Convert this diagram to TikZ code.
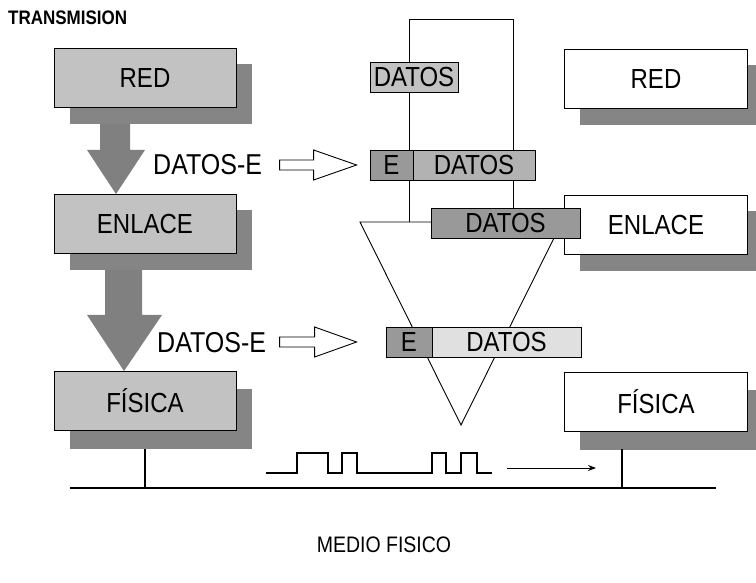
\documentclass[tikz,border=0pt]{standalone}
\usepackage{fontspec}
\usepackage{graphicx}
\setmainfont{Liberation Sans}
\usetikzlibrary{calc,arrows.meta}
\pgfdeclarelayer{bg}
\pgfsetlayers{bg,main}
\definecolor{lfront}{gray}{0.76}
\definecolor{shadowc}{gray}{0.52}
\definecolor{arrowc}{gray}{0.50}
\definecolor{mlight}{gray}{0.76}
\definecolor{mmid}{gray}{0.70}
\definecolor{mdark}{gray}{0.60}
\definecolor{mvlight}{gray}{0.88}
\newcommand{\vst}[1]{\scalebox{1}[1.15]{#1}}
\begin{document}
\begin{tikzpicture}[x=1pt,y=-1pt,
  txt/.style={font=\fontsize{24}{24}\selectfont, inner sep=0pt},
  lbox/.style={draw=black, line width=0.9pt, fill=lfront, minimum width=182pt, minimum height=59pt, txt},
  rbox/.style={draw=black, line width=0.9pt, fill=white, minimum width=183pt, minimum height=59pt, txt},
  mbox/.style={draw=black, line width=0.8pt, minimum height=30pt, txt},
  thinline/.style={line width=0.9pt},
  bigarrow/.style={fill=arrowc},
  hollow/.style={draw=black, line width=0.9pt, fill=white, line join=miter},
  lbl/.style={font=\fontsize{25}{25}\selectfont, inner sep=0pt}
]
\useasboundingbox (0,0) rectangle (756,583);

% frame lines and triangle behind the data boxes
\coordinate (rTL) at (409,19);
\coordinate (rTR) at (513,19);
\coordinate (rBL) at (409,222);
\coordinate (rBR) at (513,208);
\coordinate (tL) at (360,222);
\coordinate (tR) at (562,222);
\coordinate (tA) at (461,425);
\draw[thinline] (rBL) -- (rTL) -- (rTR) -- (rBR);
\draw[thinline, line join=miter] (tL) -- (tR) -- (tA) -- cycle;

% title
\node[font=\bfseries\fontsize{17}{17}\selectfont, inner sep=0pt, anchor=west] (title) at (8,18) {\vst{TRANSMISION}};

% left stack
\node[lbox] (redL) at (145,78) {\vst{RED}};
\node[lbox] (enlL) at (145,224) {\vst{ENLACE}};
\node[lbox] (fisL) at (145,401) {\vst{FÍSICA}};
% right stack
\node[rbox] (redR) at (656,79) {\vst{RED}};
\node[rbox] (enlR) at (656,225) {\vst{ENLACE}};
\node[rbox] (fisR) at (656,402) {\vst{FÍSICA}};

\begin{pgfonlayer}{bg}
  \foreach \n in {redL,enlL,redR,enlR}{
    \fill[shadowc] ($(\n.north west)+(16,16)$) rectangle ($(\n.south east)+(16,16)$);
  }
  \foreach \n in {fisL,fisR}{
    \fill[shadowc] ($(\n.north west)+(16,18)$) rectangle ($(\n.south east)+(16,18)$);
  }
\end{pgfonlayer}

% big downward arrows
\fill[bigarrow] ($(redL.south)+(-45,16)$) -- ++(30,0) -- ++(0,26) -- ++(15,0)
  -- ($(enlL.north)+(-29,0)$) -- ($(redL.south)+(-58,42)$) -- ++(13,0) -- cycle;
\fill[bigarrow] ($(enlL.south)+(-40,16)$) -- ++(37,0) -- ++(0,45) -- ++(20,0)
  -- ($(fisL.north)+(-21,0)$) -- ($(enlL.south)+(-58,61)$) -- ++(18,0) -- cycle;

% labels
\node[lbl, anchor=west] (de1) at (153,165) {\vst{DATOS-E}};
\node[lbl, anchor=west] (de2) at (157,343) {\vst{DATOS-E}};

% middle data boxes
\node[mbox, fill=mlight, minimum width=88pt] (datTop) at (414,77) {\vst{DATOS}};
\node[mbox, fill=mmid, minimum width=122pt] (ed1D) at (474,165) {\vst{DATOS}};
\node[mbox, fill=mdark, minimum width=43pt] (ed1E) at (391.5,165) {\vst{E}};
\node[mbox, fill=mdark, minimum width=149pt] (datMid) at (505.5,223) {\vst{DATOS}};
\node[mbox, fill=mvlight, minimum width=149pt] (ed2D) at (506.5,342) {\vst{DATOS}};
\node[mbox, fill=mdark, minimum width=46pt] (ed2E) at (409,342) {\vst{E}};

% hollow arrows
\coordinate (h1) at ($(ed1E.west)+(-90,0)$);
\draw[hollow] ($(h1)+(0,-5)$) -- ++(34,0) -- ++(0,-10) -- ($(ed1E.west)+(-13,0)$)
  -- ($(h1)+(34,15)$) -- ++(0,-10) -- ++(-34,0) -- cycle;
\coordinate (h2) at ($(ed2E.west)+(-106,0)$);
\draw[hollow] ($(h2)+(0,-5)$) -- ++(35,0) -- ++(0,-10) -- ($(ed2E.west)+(-29,0)$)
  -- ($(h2)+(35,15)$) -- ++(0,-10) -- ++(-35,0) -- cycle;

% signal
\draw[line width=1.1pt] (266,473) -- (297,473) -- (297,453) -- (328,453) -- (328,473)
  -- (342,473) -- (342,453) -- (357,453) -- (357,473) -- (432,473) -- (432,453)
  -- (446,453) -- (446,473) -- (461,473) -- (461,453) -- (477,453) -- (477,473) -- (492,473);
\coordinate (sigS) at (507,468);
\coordinate (sigE) at (596,468);
\draw[line width=0.9pt, -{Stealth[length=8pt,width=6pt]}] (sigS) -- (sigE);

% medium
\coordinate (gL) at (70,488);
\coordinate (gR) at (716,488);
\draw[line width=2pt] (gL) -- (gR);
\draw[line width=1.4pt] ($(fisL.south)+(0,18)$) -- (fisL.south |- gL);
\coordinate (stubR) at (622,449);
\draw[line width=1.4pt] (stubR) -- (stubR |- gL);

\node[font=\fontsize{19.5}{19.5}\selectfont, inner sep=0pt] (medio) at (384,545) {\vst{MEDIO FISICO}};
\end{tikzpicture}
\end{document}
